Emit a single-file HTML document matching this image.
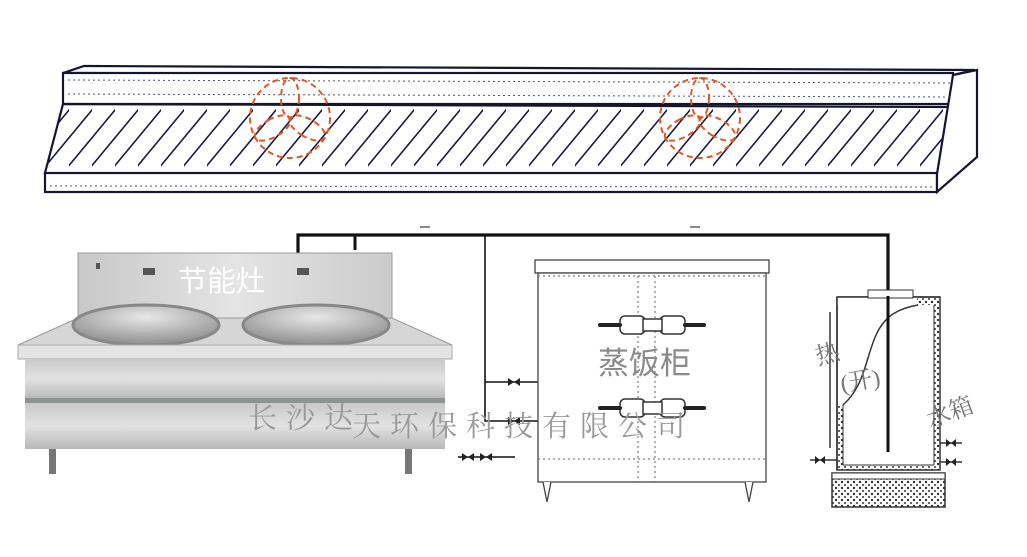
<!DOCTYPE html>
<html><head><meta charset="utf-8"><style>html,body{margin:0;padding:0;background:#fff}svg{display:block}</style></head><body>
<svg width="1027" height="557" viewBox="0 0 1027 557" xmlns="http://www.w3.org/2000/svg">
<defs>
<pattern id="hatch" patternUnits="userSpaceOnUse" width="23" height="70" patternTransform="translate(0,104)">
<line x1="-30" y1="70" x2="28" y2="0" stroke="#1a1a3a" stroke-width="1.6"/>
<line x1="-7" y1="70" x2="51" y2="0" stroke="#1a1a3a" stroke-width="1.6"/>
</pattern>
<pattern id="dots" patternUnits="userSpaceOnUse" width="6" height="6">
<circle cx="2" cy="2" r="1.2" fill="#333"/><circle cx="5" cy="5" r="1" fill="#333"/>
</pattern>
<linearGradient id="steel" x1="0" y1="0" x2="0" y2="1">
<stop offset="0" stop-color="#c9c9c9"/><stop offset="0.5" stop-color="#e2e2e2"/><stop offset="1" stop-color="#b8b8b8"/></linearGradient>
<linearGradient id="steel2" x1="0" y1="0" x2="1" y2="0">
<stop offset="0" stop-color="#c8c8c8"/><stop offset="0.5" stop-color="#e4e4e4"/><stop offset="1" stop-color="#cbcbcb"/></linearGradient>
<radialGradient id="wok" cx="0.5" cy="0.3" r="0.7"><stop offset="0" stop-color="#e8e8e8"/><stop offset="1" stop-color="#8d8d8d"/></radialGradient>
</defs>
<!-- hood -->
<g stroke="#151530" fill="none" stroke-width="2.2">
<polygon points="84,66 975,70 953,75 63,73" fill="#fff"/>
<rect x="63" y="73" width="890" height="31" fill="#fff"/>
<polygon points="63,104 953,107 937,174 45,173" fill="url(#hatch)"/>
<rect x="45" y="173" width="892" height="19" fill="#fff"/>
<polygon points="953,75 977,70 977,157 937,192 937,174" fill="#fff"/>
</g>
<g stroke="#556" stroke-width="1" stroke-dasharray="2,3">
<line x1="68" y1="80" x2="950" y2="83"/><line x1="68" y1="94" x2="950" y2="97"/><line x1="50" y1="186" x2="934" y2="187"/>
</g>
<!-- fans -->
<g stroke="#e0582a" stroke-width="2" fill="none" stroke-dasharray="6,4">
<circle cx="290" cy="118" r="40"/>
<ellipse cx="290" cy="98" rx="9" ry="20"/>
<ellipse cx="290" cy="98" rx="9" ry="20" transform="rotate(120 290 118)"/>
<ellipse cx="290" cy="98" rx="9" ry="20" transform="rotate(240 290 118)"/>
<circle cx="700" cy="118" r="40"/>
<ellipse cx="700" cy="98" rx="9" ry="20"/>
<ellipse cx="700" cy="98" rx="9" ry="20" transform="rotate(120 700 118)"/>
<ellipse cx="700" cy="98" rx="9" ry="20" transform="rotate(240 700 118)"/>
</g>
<!-- pipes -->
<g stroke="#111" fill="none">
<polyline points="298,253 298,235 888,235 888,296" stroke-width="3.2"/>
<line x1="355" y1="235" x2="355" y2="250" stroke-width="3"/>
<polyline points="485,235 485,421 540,421" stroke-width="1.6"/>
<line x1="485" y1="382" x2="540" y2="382" stroke-width="1.6"/>
<line x1="458" y1="457" x2="515" y2="457" stroke-width="1.6"/>
<line x1="420" y1="227" x2="430" y2="227" stroke-width="1"/>
<line x1="690" y1="227" x2="700" y2="227" stroke-width="1"/>
</g>
<g fill="#222">
<path d="M508,378 l6,4 -6,4z M520,378 l-6,4 6,4z"/><path d="M508,417 l6,4 -6,4z M520,417 l-6,4 6,4z"/>
<path d="M462,453 l6,4 -6,4z M474,453 l-6,4 6,4z M480,453 l6,4 -6,4z M492,453 l-6,4 6,4z"/>
</g>
<!-- cooker -->
<rect x="78" y="253" width="314" height="67" fill="url(#steel2)" stroke="#999"/>
<polygon points="78,318 392,318 452,345 18,345" fill="#d6d6d6" stroke="#999"/>
<ellipse cx="146" cy="325" rx="73" ry="20" fill="url(#wok)" stroke="#888" stroke-width="3"/>
<ellipse cx="316" cy="325" rx="73" ry="20" fill="url(#wok)" stroke="#888" stroke-width="3"/>
<rect x="18" y="345" width="434" height="14" fill="#e4e4e4" stroke="#aaa"/>
<rect x="25" y="359" width="420" height="40" fill="url(#steel)"/>
<rect x="25" y="398" width="420" height="5" fill="#8d9393"/>
<rect x="25" y="403" width="420" height="46" fill="url(#steel)"/>
<rect x="49" y="449" width="7" height="25" fill="#777"/><rect x="405" y="449" width="7" height="25" fill="#777"/>
<g fill="#555"><rect x="143" y="268" width="12" height="7"/><rect x="297" y="268" width="12" height="7"/><rect x="96" y="263" width="4" height="6"/></g>
<text x="178" y="291" font-family="Liberation Sans, Noto Sans CJK SC, sans-serif" font-size="29" fill="#fff">节能灶</text>
<!-- steamer -->
<g stroke="#444" fill="#fff" stroke-width="1.3">
<rect x="535" y="260" width="234" height="13"/>
<rect x="538" y="273" width="228" height="209"/>
<path d="M543,482 l4,20 4,-20 M745,482 l4,20 4,-20"/>
</g>
<g stroke="#666" stroke-dasharray="2,3" stroke-width="1" fill="none">
<line x1="538" y1="276" x2="766" y2="276"/><line x1="538" y1="459" x2="766" y2="459"/>
<line x1="638" y1="276" x2="638" y2="482"/><line x1="655" y1="276" x2="655" y2="482"/>
</g>
<g fill="#fff" stroke="#333" stroke-width="1.5">
<rect x="620" y="316" width="25" height="18" rx="5"/><rect x="660" y="316" width="25" height="18" rx="5"/><rect x="643" y="319" width="19" height="12"/>
<rect x="620" y="399" width="25" height="18" rx="5"/><rect x="660" y="399" width="25" height="18" rx="5"/><rect x="643" y="402" width="19" height="12"/>
</g>
<g stroke="#222" stroke-width="4" stroke-linecap="round"><line x1="600" y1="325" x2="620" y2="325"/><line x1="685" y1="325" x2="704" y2="325"/><line x1="600" y1="408" x2="620" y2="408"/><line x1="685" y1="408" x2="704" y2="408"/></g>
<text x="598" y="374" font-family="Liberation Sans, Noto Sans CJK SC, sans-serif" font-size="31" fill="#8a8a8a">蒸饭柜</text>
<!-- tank -->
<rect x="832" y="473" width="113" height="34" fill="url(#dots)" stroke="#333" stroke-width="1.5"/>
<rect x="832" y="473" width="113" height="6" fill="#fff" stroke="#333" stroke-width="1"/>
<rect x="837" y="297" width="103" height="173" fill="url(#dots)" stroke="#333" stroke-width="1.5"/>
<rect x="843" y="305" width="91" height="160" fill="#fff"/>
<rect x="837" y="297" width="80" height="8" fill="#fff"/>
<polygon points="838,298 918,298 900,310 884,322 876,345 868,375 843,405 838,405" fill="#fff"/>
<path d="M843,405 C865,385 865,360 876,335 C885,315 900,308 918,305" stroke="#333" fill="none" stroke-width="1.5"/>
<line x1="837" y1="297" x2="940" y2="297" stroke="#333" stroke-width="1.5"/>
<line x1="837" y1="297" x2="837" y2="470" stroke="#333" stroke-width="1.5"/>
<line x1="843" y1="405" x2="843" y2="465" stroke="#333" stroke-width="1"/>
<line x1="843" y1="465" x2="934" y2="465" stroke="#333" stroke-width="1"/>
<line x1="934" y1="305" x2="934" y2="465" stroke="#333" stroke-width="1"/>
<rect x="868" y="290" width="45" height="8" fill="#fff" stroke="#333"/>
<line x1="888" y1="296" x2="888" y2="452" stroke="#111" stroke-width="3"/>
<line x1="830" y1="312" x2="830" y2="448" stroke="#333" stroke-width="1.5"/>
<g stroke="#333" stroke-width="1.4"><line x1="810" y1="460" x2="837" y2="460"/><line x1="940" y1="443" x2="962" y2="443"/><line x1="940" y1="462" x2="962" y2="462"/></g>
<g fill="#222"><path d="M815,456 l5,4 -5,4z M825,456 l-5,4 5,4z M946,439 l5,4 -5,4z M956,439 l-5,4 5,4z M946,458 l5,4 -5,4z M956,458 l-5,4 5,4z"/></g>
<g font-family="Liberation Serif, Noto Serif CJK SC, serif" fill="#777" font-size="24">
<text x="818" y="365" transform="rotate(-15 818 365)">热</text>
<text x="842" y="392" transform="rotate(-10 842 392)">(开)</text>
<text x="930" y="428" transform="rotate(-20 930 428)">水箱</text>
</g>
<!-- watermark -->
<text font-family="Liberation Serif, Noto Serif CJK SC, serif" font-size="29" fill="#999" letter-spacing="9">
<tspan x="248" y="428">长沙达</tspan><tspan x="352" y="436">天环保科技有限公司</tspan></text>
</svg>
</body></html>
